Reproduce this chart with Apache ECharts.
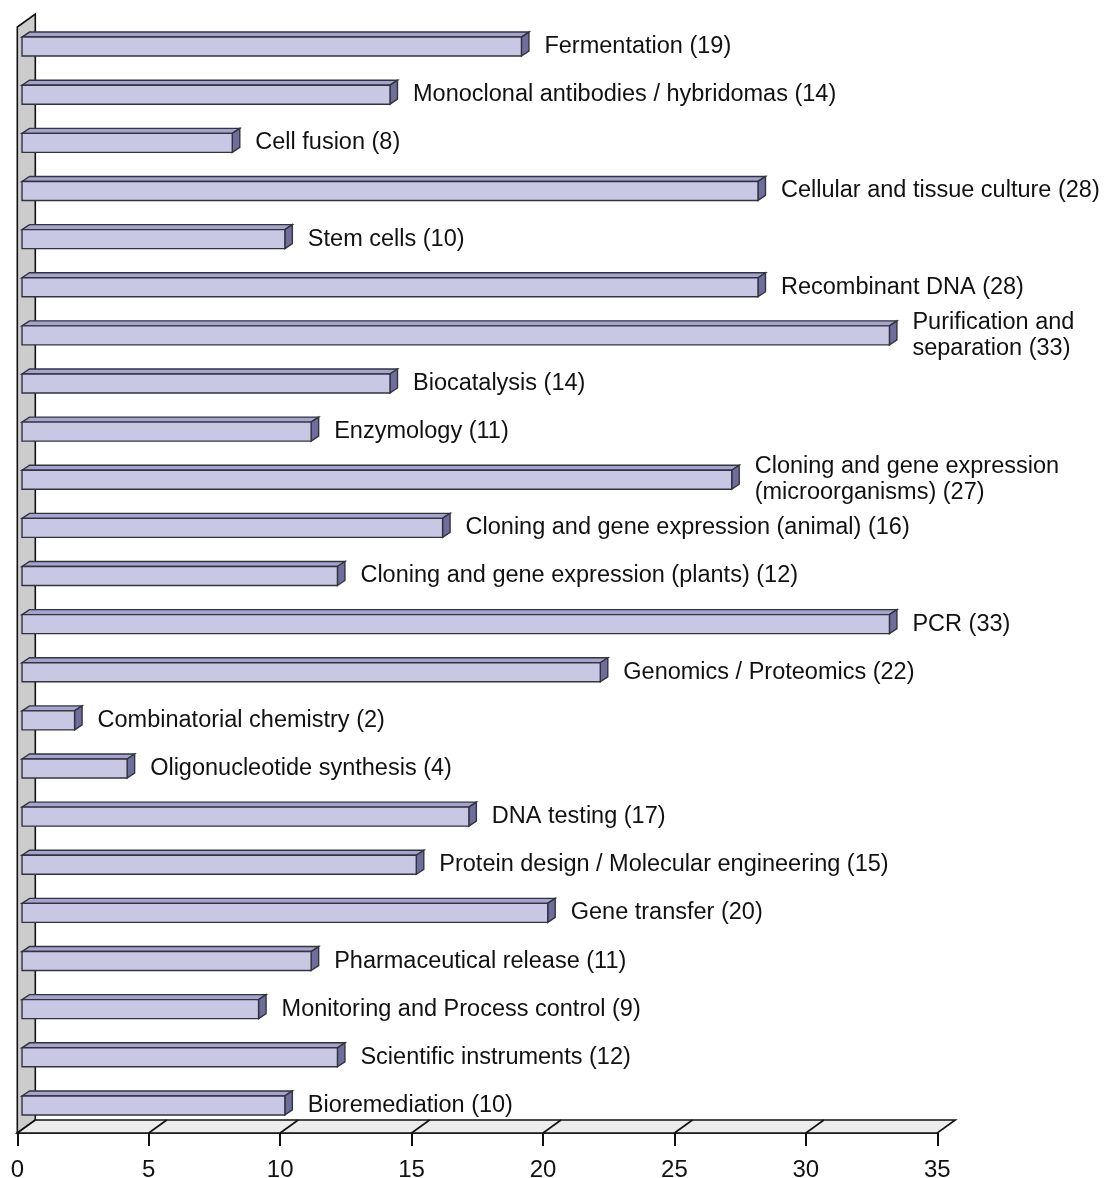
<!DOCTYPE html>
<html>
<head>
<meta charset="utf-8">
<script src="https://cdn.jsdelivr.net/npm/echarts@6/dist/echarts.min.js"></script>
<style>
  html, body { margin: 0; padding: 0; background: #ffffff; }
  #chart { width: 1104px; height: 1178px; }
</style>
</head>
<body>
<div id="chart"></div>
<script>
// Technique categories, top to bottom
const categories = [
  'Fermentation',
  'Monoclonal antibodies / hybridomas',
  'Cell fusion',
  'Cellular and tissue culture',
  'Stem cells',
  'Recombinant DNA',
  'Purification and\nseparation',
  'Biocatalysis',
  'Enzymology',
  'Cloning and gene expression\n(microorganisms)',
  'Cloning and gene expression (animal)',
  'Cloning and gene expression (plants)',
  'PCR',
  'Genomics / Proteomics',
  'Combinatorial chemistry',
  'Oligonucleotide synthesis',
  'DNA testing',
  'Protein design / Molecular engineering',
  'Gene transfer',
  'Pharmaceutical release',
  'Monitoring and Process control',
  'Scientific instruments',
  'Bioremediation'
];

// Counts per category
const counts = [19, 14, 8, 28, 10, 28, 33, 14, 11, 27, 16, 12, 33, 22, 2, 4, 17, 15, 20, 11, 9, 12, 10];

// Value axis ticks
const axisMin = 0;
const axisMax = 35;
const axisStep = 5;

const FONT = '"Liberation Sans", Arial, Helvetica, sans-serif';

// 3D depth offsets (pixels)
const DEPTH_DX = 18, DEPTH_DY = -13;     // floor / wall depth
const BAR_SHIFT_X = 4.7, BAR_SHIFT_Y = -3.5; // bar front plane inside the box
const BAR_H = 19;                        // front face height
const TOP_DX = 7.5, TOP_DY = -5;         // bar top / side depth

const chart = echarts.init(document.getElementById('chart'), null, { renderer: 'canvas' });

const tickValues = [];
for (let v = axisMin; v <= axisMax; v += axisStep) tickValues.push(v);

function renderBox(params, api) {
  const cs = params.coordSys;
  const left = api.coord([axisMin, 0])[0];
  const right = api.coord([axisMax, 0])[0];
  const bottom = cs.y + cs.height;
  const wallTop = 27;
  const children = [];
  // side wall
  children.push({
    type: 'polygon',
    shape: { points: [
      [left, bottom], [left, wallTop],
      [left + DEPTH_DX, wallTop + DEPTH_DY], [left + DEPTH_DX, bottom + DEPTH_DY]
    ] },
    style: { fill: '#cccccc', stroke: '#111', lineWidth: 1.6 }
  });
  // floor
  children.push({
    type: 'polygon',
    shape: { points: [
      [left, bottom], [right, bottom],
      [right + DEPTH_DX, bottom + DEPTH_DY], [left + DEPTH_DX, bottom + DEPTH_DY]
    ] },
    style: { fill: '#ececec', stroke: '#111', lineWidth: 1.6 }
  });
  // slanted grid marks on the floor
  tickValues.forEach(function (v) {
    if (v === axisMin || v === axisMax) return;
    const x = api.coord([v, 0])[0];
    children.push({
      type: 'line',
      shape: { x1: x, y1: bottom, x2: x + DEPTH_DX, y2: bottom + DEPTH_DY },
      style: { stroke: '#111', lineWidth: 1.6 }
    });
  });
  return { type: 'group', children: children };
}

function renderBar(params, api) {
  const value = api.value(0);
  const idx = api.value(1);
  const p = api.coord([value, idx]);
  const p0 = api.coord([0, idx]);
  const x0 = p0[0] + BAR_SHIFT_X;
  const x1 = p[0] + BAR_SHIFT_X;
  const cy = p[1] + BAR_SHIFT_Y;
  const yT = cy - BAR_H / 2;
  const yB = cy + BAR_H / 2;
  const stroke = '#333340';
  const label = categories[idx] + ' (' + counts[idx] + ')';
  return {
    type: 'group',
    children: [
      {
        type: 'polygon',
        shape: { points: [[x0, yT], [x1, yT], [x1 + TOP_DX, yT + TOP_DY], [x0 + TOP_DX, yT + TOP_DY]] },
        style: { fill: '#a4a4cc', stroke: stroke, lineWidth: 1.4 }
      },
      {
        type: 'polygon',
        shape: { points: [[x1, yT], [x1 + TOP_DX, yT + TOP_DY], [x1 + TOP_DX, yB + TOP_DY], [x1, yB]] },
        style: { fill: '#6e6e9c', stroke: stroke, lineWidth: 1.4 }
      },
      {
        type: 'rect',
        shape: { x: x0, y: yT, width: x1 - x0, height: BAR_H },
        style: { fill: '#c8c8e4', stroke: stroke, lineWidth: 1.4 }
      },
      {
        type: 'text',
        style: {
          x: x1 + 23, y: cy,
          text: label,
          fill: '#111',
          font: '23.5px ' + FONT,
          lineHeight: 26,
          align: 'left',
          verticalAlign: 'middle'
        }
      }
    ]
  };
}

const option = {
  animation: false,
  backgroundColor: '#ffffff',
  grid: { left: 17.3, right: 166.7, top: 26, bottom: 45, containLabel: false, outerBoundsMode: 'none' },
  xAxis: {
    type: 'value',
    min: axisMin, max: axisMax, interval: axisStep,
    splitLine: { show: false },
    axisLine: { show: true, lineStyle: { color: '#111', width: 1.6 } },
    axisTick: { show: true, inside: false, length: 13, lineStyle: { color: '#111', width: 2 } },
    axisLabel: { color: '#111', fontSize: 24, fontFamily: FONT, margin: 25 }
  },
  yAxis: {
    type: 'category',
    data: categories,
    inverse: true,
    axisLine: { show: false },
    axisTick: { show: false },
    axisLabel: { show: false },
    splitLine: { show: false }
  },
  series: [
    {
      type: 'custom',
      renderItem: renderBox,
      data: [[0, 0]],
      encode: { x: 0, y: 1 },
      silent: true,
      z: 1
    },
    {
      type: 'custom',
      renderItem: renderBar,
      data: counts.map(function (v, i) { return [v, i]; }),
      encode: { x: 0, y: 1 },
      z: 2
    }
  ]
};

chart.setOption(option);
</script>
</body>
</html>
